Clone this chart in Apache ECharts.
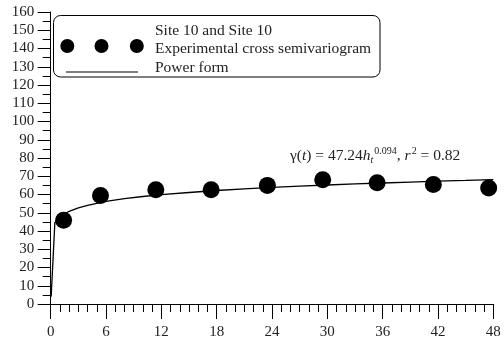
<!DOCTYPE html>
<html>
<head>
<meta charset="utf-8">
<script src="https://cdn.jsdelivr.net/npm/echarts@6/dist/echarts.min.js"></script>
<style>html,body{margin:0;padding:0;background:#fff}#c{width:504px;height:347px}</style>
</head>
<body>
<div id="c"></div>
<script>
// Experimental cross semivariogram points (lag, semivariance)
var lagValues = [1.4, 5.4, 11.4, 17.4, 23.5, 29.5, 35.4, 41.5, 47.5];
var gammaValues = [45.9, 59.5, 62.6, 62.6, 65.0, 68.1, 66.5, 65.5, 63.5];
// Power form fitted curve
var curveLag = [0.05, 0.45, 1, 2, 3, 4, 6, 8, 10, 12, 15, 18, 21, 24, 27, 30, 33, 36, 39, 42, 45, 48];
var curveGamma = [4.0, 44.5, 47.6, 50.8, 52.7, 54.1, 56.2, 57.7, 58.9, 59.9, 61.1, 62.2, 63.1, 63.9, 64.6, 65.2, 65.8, 66.3, 66.8, 67.3, 67.7, 68.2];
var xTicks = [0, 6, 12, 18, 24, 30, 36, 42, 48];
var yTicks = [0, 10, 20, 30, 40, 50, 60, 70, 80, 90, 100, 110, 120, 130, 140, 150, 160];
var legendTitle = 'Site 10 and Site 10';
var legendPoints = 'Experimental cross semivariogram';
var legendLine = 'Power form';

var FONT = 'Liberation Serif';
var chart = echarts.init(document.getElementById('c'));
var pts = lagValues.map(function (x, i) { return [x, gammaValues[i]]; });
var curve = curveLag.map(function (x, i) { return [x, curveGamma[i]]; });

var axisCommon = {
  axisLine: { show: true, onZero: false, lineStyle: { color: '#000', width: 1 } },
  splitLine: { show: false },
  axisLabel: { color: '#222', fontFamily: FONT, fontSize: 15 }
};

chart.setOption({
  animation: false,
  backgroundColor: '#fff',
  grid: { left: 50.7, right: 10.7, top: 12, bottom: 43, containLabel: false },
  xAxis: Object.assign({}, axisCommon, {
    type: 'value', min: xTicks[0], max: xTicks[xTicks.length - 1], interval: 6,
    axisTick: { show: true, inside: false, length: 15, lineStyle: { color: '#000' } },
    minorTick: { show: true, splitNumber: 6, length: 8, lineStyle: { color: '#000' } },
    axisLabel: Object.assign({}, axisCommon.axisLabel, { margin: 21 })
  }),
  yAxis: Object.assign({}, axisCommon, {
    type: 'value', min: yTicks[0], max: yTicks[yTicks.length - 1], interval: 10,
    axisTick: { show: true, inside: false, length: 13, lineStyle: { color: '#000' } },
    minorTick: { show: true, splitNumber: 2, length: 8, lineStyle: { color: '#000' } },
    axisLabel: Object.assign({}, axisCommon.axisLabel, { margin: 16.5 })
  }),
  series: [
    {
      type: 'line', data: curve, showSymbol: false, smooth: false,
      lineStyle: { color: '#000', width: 1.3 }, z: 2
    },
    {
      type: 'scatter', data: pts, symbol: 'circle', symbolSize: 17,
      itemStyle: { color: '#000', opacity: 1 }, z: 3
    }
  ],
  graphic: [
    { type: 'rect', shape: { x: 53.5, y: 15.5, width: 326.5, height: 61.5, r: 7 },
      style: { fill: '#fff', stroke: '#000', lineWidth: 1 }, z: 10 },
    { type: 'circle', shape: { cx: 67.3, cy: 46, r: 7 }, style: { fill: '#000' }, z: 11 },
    { type: 'circle', shape: { cx: 101.5, cy: 46, r: 7 }, style: { fill: '#000' }, z: 11 },
    { type: 'circle', shape: { cx: 136.8, cy: 46, r: 7 }, style: { fill: '#000' }, z: 11 },
    { type: 'line', shape: { x1: 66, y1: 72, x2: 138, y2: 72 }, style: { stroke: '#000', lineWidth: 1.2 }, z: 11 },
    { type: 'text', x: 155, y: 31, z: 11,
      style: { text: legendTitle, fontFamily: FONT, fontSize: 15.5, fill: '#222', verticalAlign: 'middle' } },
    { type: 'text', x: 155, y: 49, z: 11,
      style: { text: legendPoints, fontFamily: FONT, fontSize: 15.5, fill: '#222', verticalAlign: 'middle' } },
    { type: 'text', x: 155, y: 67.5, z: 11,
      style: { text: legendLine, fontFamily: FONT, fontSize: 15.5, fill: '#222', verticalAlign: 'middle' } },
    { type: 'text', x: 290, y: 156, z: 11,
      style: {
        text: '{n|γ(}{i|t}{n|) = 47.24}{i|h}{sub|t}{sup|0.094}{n|, }{i|r}{sup|2}{n| = 0.82}',
        verticalAlign: 'middle', fill: '#222',
        rich: {
          n: { fontFamily: FONT, fontSize: 15.5, lineHeight: 19, verticalAlign: 'middle', fill: '#222' },
          i: { fontFamily: FONT, fontSize: 15.5, fontStyle: 'italic', lineHeight: 19, verticalAlign: 'middle', fill: '#222' },
          sup: { fontFamily: FONT, fontSize: 10, lineHeight: 19, verticalAlign: 'top', fill: '#222', padding: [0, 0, 0, 1] },
          sub: { fontFamily: FONT, fontSize: 10, fontStyle: 'italic', lineHeight: 19, verticalAlign: 'bottom', fill: '#222' }
        }
      } }
  ]
});
</script>
</body>
</html>
